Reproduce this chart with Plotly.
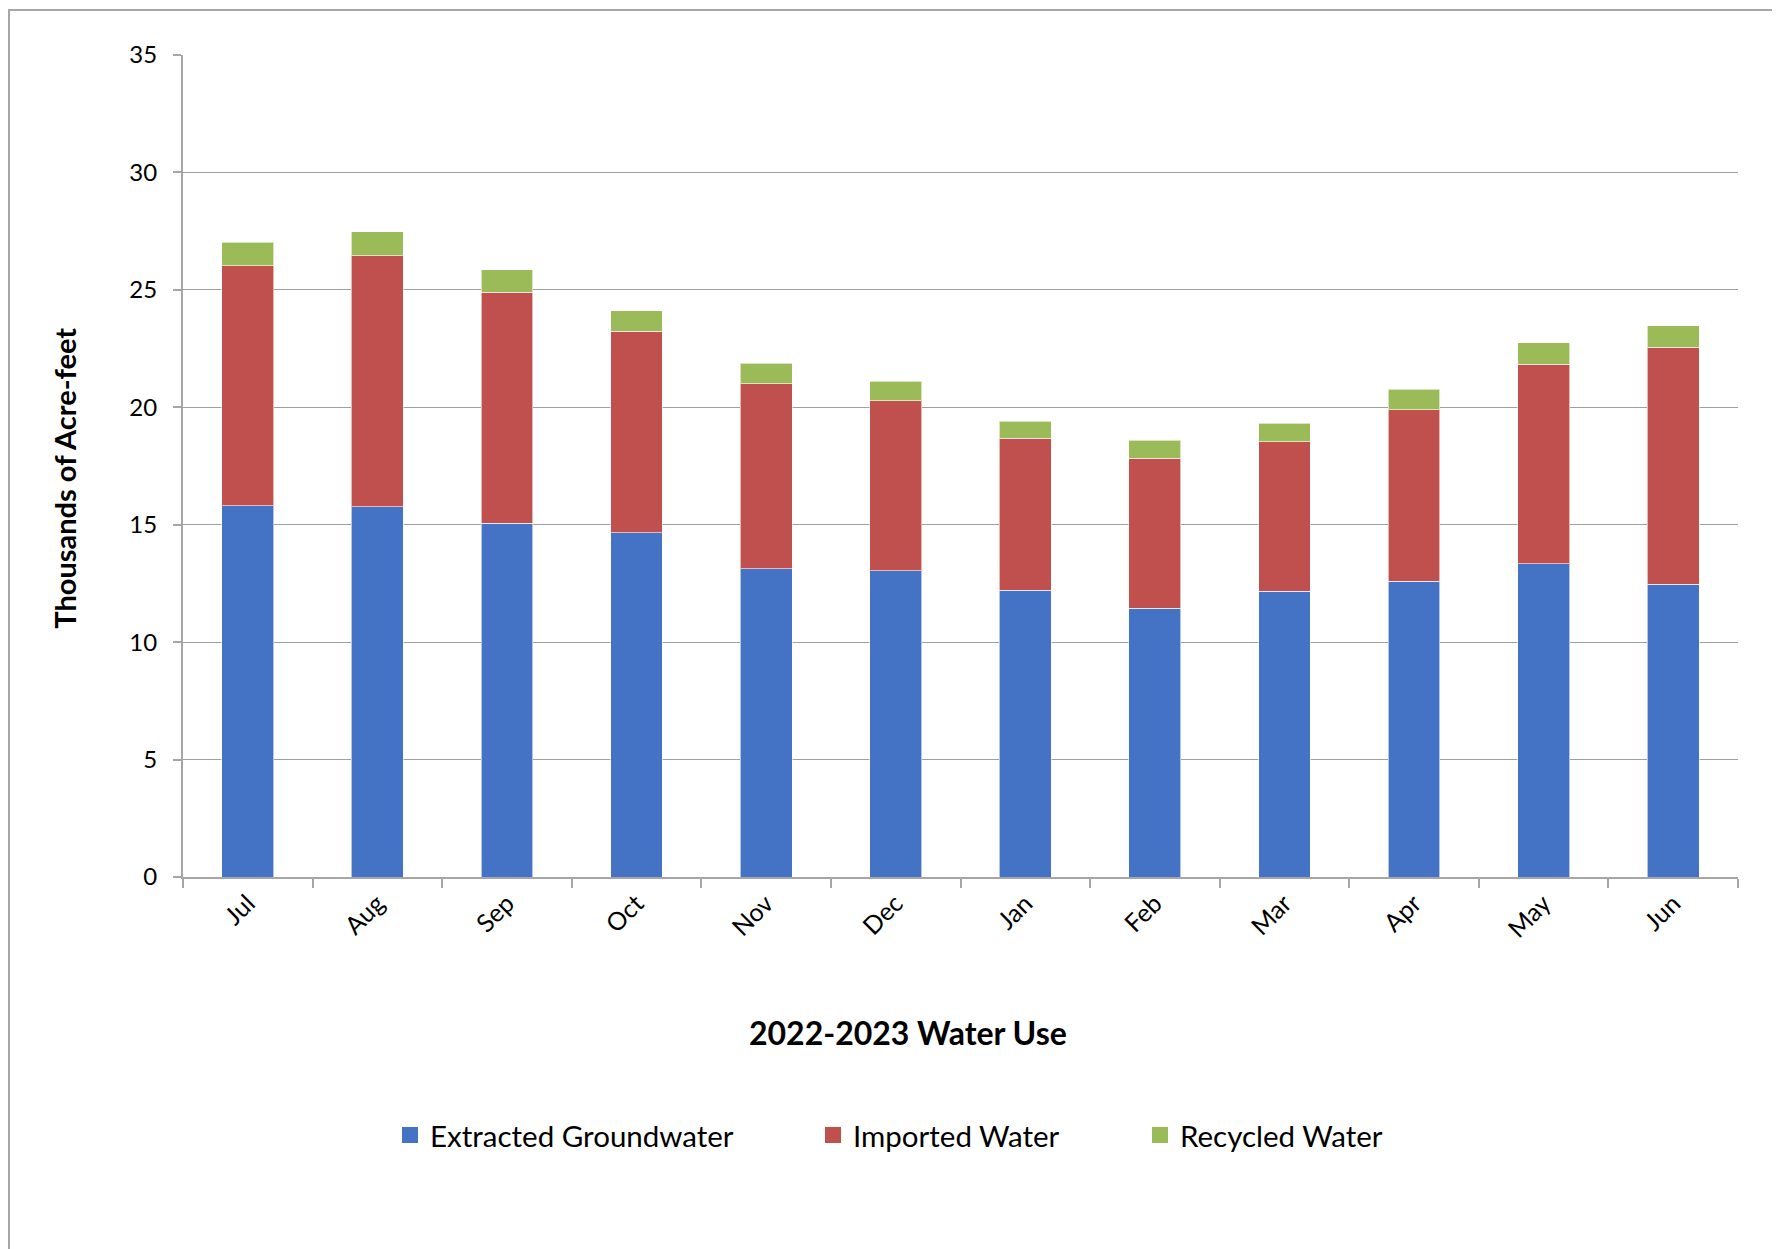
import plotly.graph_objects as go

months = ['Jul', 'Aug', 'Sep', 'Oct', 'Nov', 'Dec', 'Jan', 'Feb', 'Mar', 'Apr', 'May', 'Jun']
groundwater = [15.80, 15.77, 15.07, 14.66, 13.13, 13.04, 12.22, 11.44, 12.17, 12.60, 13.33, 12.46]
imported = [10.23, 10.69, 9.83, 8.57, 7.87, 7.24, 6.47, 6.38, 6.37, 7.29, 8.50, 10.09]
recycled = [1.00, 1.02, 0.96, 0.88, 0.87, 0.82, 0.72, 0.77, 0.77, 0.87, 0.91, 0.92]

# page has an 8px body margin, so work in page pixels and shift
OFF = 8
W, H = 1780 - OFF, 1249 - OFF
PL, PR, PT, PB = 183 - OFF, 1738 - OFF, 55 - OFF, 877.5 - OFF

def px(x):
    return (x - OFF - PL) / (PR - PL)

def py(y):
    return (PB - (y - OFF)) / (PB - PT)

FONT = 'Lato'

fig = go.Figure()
series = [
    ('Extracted Groundwater', groundwater, '#4472C4', 'legend'),
    ('Imported Water', imported, '#C0504D', 'legend2'),
    ('Recycled Water', recycled, '#9BBB59', 'legend3'),
]
for name, vals, color, leg in series:
    fig.add_trace(go.Bar(
        x=months, y=vals, name=name, showlegend=False,
        marker=dict(color=color, line=dict(color='rgba(255,255,255,0.6)', width=1)),
    ))
# legend entries with bigger square keys
for name, vals, color, leg in series:
    fig.add_trace(go.Scatter(
        x=[None], y=[None], name=name, mode='markers', legend=leg,
        marker=dict(symbol='square', size=17, color=color),
    ))

legend_style = dict(orientation='h', yanchor='middle', xanchor='left',
                    font=dict(family=FONT, size=29.5, color='black'),
                    bgcolor='rgba(0,0,0,0)', itemwidth=30)

fig.update_layout(
    width=W, height=H,
    barmode='stack', bargap=0.6,
    plot_bgcolor='white', paper_bgcolor='white',
    margin=dict(l=PL, r=W - PR, t=PT, b=H - PB),
    font=dict(family=FONT, color='black'),
    showlegend=True,
    legend=dict(x=px(390), y=py(1136), **legend_style),
    legend2=dict(x=px(813), y=py(1136), **legend_style),
    legend3=dict(x=px(1140), y=py(1136), **legend_style),
    xaxis=dict(
        showgrid=False, showline=True, linecolor='#a6a6a6', linewidth=2,
        ticks='outside', tickson='boundaries', ticklen=9, tickcolor='#a6a6a6', tickwidth=2,
        tickangle=-45, tickfont=dict(family=FONT, size=25),
    ),
    yaxis=dict(
        range=[0, 35], dtick=5, showgrid=True, gridcolor='#a0a0a0', gridwidth=1,
        showline=True, linecolor='#a6a6a6', linewidth=2,
        ticks='outside', ticklen=8, tickcolor='#a6a6a6', tickwidth=2,
        ticklabelstandoff=11, tickfont=dict(family=FONT, size=24),
        zeroline=False,
    ),
    annotations=[
        dict(text='<b>Thousands of Acre-feet</b>', xref='paper', yref='paper',
             x=px(65), y=py(479), xanchor='center', yanchor='middle',
             textangle=-90, showarrow=False,
             font=dict(family=FONT, size=29, color='black')),
        dict(text='<b>2022-2023 Water Use</b>', xref='paper', yref='paper',
             x=px(908), y=py(1033), xanchor='center', yanchor='middle',
             showarrow=False,
             font=dict(family=FONT, size=32, color='black')),
    ],
    shapes=[
        # outer chart frame (top edge sits just inside the page)
        dict(type='rect', xref='paper', yref='paper',
             x0=px(9), x1=px(1776), y0=py(1260), y1=py(10),
             line=dict(color='#a6a6a6', width=2), layer='below'),
    ],
)

fig.write_html('out.html')
